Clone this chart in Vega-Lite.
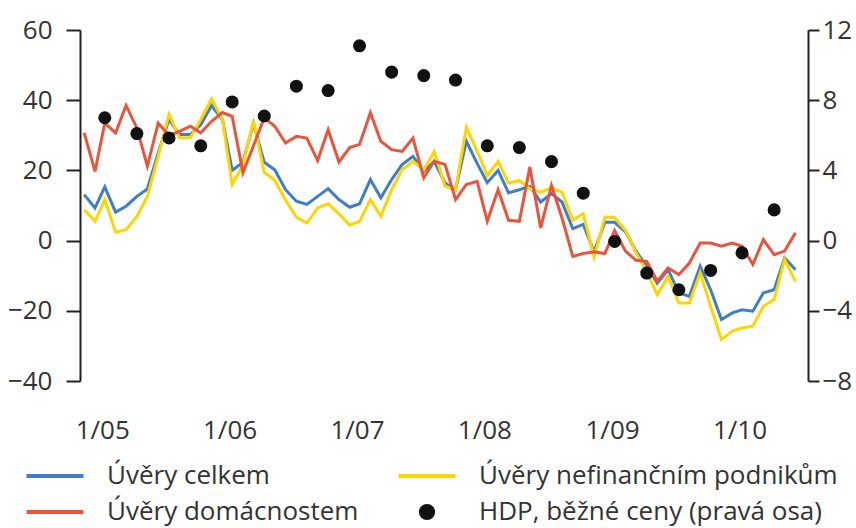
{
  "$schema": "https://vega.github.io/schema/vega-lite/v6.json",
  "width": 728,
  "height": 351,
  "autosize": {"type": "none"},
  "padding": {"left": 80, "top": 30, "right": 48, "bottom": 147},
  "background": "white",
  "config": {
    "view": {"stroke": null},
    "font": "Open Sans",
    "axis": {"labelFont": "Open Sans", "labelFontSize": 26, "labelColor": "#333333", "domainColor": "#222222", "tickColor": "#222222", "domainWidth": 2, "tickWidth": 2, "grid": false, "title": null}
  },
  "datasets": {
    "loans": [
      {"date": "2005-01-01", "Úvěry celkem": 13.1, "Úvěry nefinančním podnikům": 8.8, "Úvěry domácnostem": 30.7},
      {"date": "2005-02-01", "Úvěry celkem": 9.3, "Úvěry nefinančním podnikům": 5.5, "Úvěry domácnostem": 19.7},
      {"date": "2005-03-01", "Úvěry celkem": 15.3, "Úvěry nefinančním podnikům": 11.7, "Úvěry domácnostem": 33.5},
      {"date": "2005-04-01", "Úvěry celkem": 8.1, "Úvěry nefinančním podnikům": 2.4, "Úvěry domácnostem": 30.7},
      {"date": "2005-05-01", "Úvěry celkem": 9.8, "Úvěry nefinančním podnikům": 3.1, "Úvěry domácnostem": 38.5},
      {"date": "2005-06-01", "Úvěry celkem": 12.6, "Úvěry nefinančním podnikům": 6.9, "Úvěry domácnostem": 32.1},
      {"date": "2005-07-01", "Úvěry celkem": 14.7, "Úvěry nefinančním podnikům": 12.6, "Úvěry domácnostem": 21.2},
      {"date": "2005-08-01", "Úvěry celkem": 25.0, "Úvěry nefinančním podnikům": 24.0, "Úvěry domácnostem": 33.5},
      {"date": "2005-09-01", "Úvěry celkem": 34.5, "Úvěry nefinančním podnikům": 36.0, "Úvěry domácnostem": 30.0},
      {"date": "2005-10-01", "Úvěry celkem": 30.2, "Úvěry nefinančním podnikům": 29.3, "Úvěry domácnostem": 31.1},
      {"date": "2005-11-01", "Úvěry celkem": 30.2, "Úvěry nefinančním podnikům": 29.3, "Úvěry domácnostem": 32.6},
      {"date": "2005-12-01", "Úvěry celkem": 33.0, "Úvěry nefinančním podnikům": 34.5, "Úvěry domácnostem": 30.7},
      {"date": "2006-01-01", "Úvěry celkem": 38.5, "Úvěry nefinančním podnikům": 40.4, "Úvěry domácnostem": 34.0},
      {"date": "2006-02-01", "Úvěry celkem": 34.5, "Úvěry nefinančním podnikům": 34.5, "Úvěry domácnostem": 36.5},
      {"date": "2006-03-01", "Úvěry celkem": 20.0, "Úvěry nefinančním podnikům": 16.0, "Úvěry domácnostem": 35.4},
      {"date": "2006-04-01", "Úvěry celkem": 22.3, "Úvěry nefinančním podnikům": 21.5, "Úvěry domácnostem": 19.3},
      {"date": "2006-05-01", "Úvěry celkem": 33.3, "Úvěry nefinančním podnikům": 34.2, "Úvěry domácnostem": 27.0},
      {"date": "2006-06-01", "Úvěry celkem": 22.3, "Úvěry nefinančním podnikům": 19.5, "Úvěry domácnostem": 35.0},
      {"date": "2006-07-01", "Úvěry celkem": 20.2, "Úvěry nefinančním podnikům": 17.2, "Úvěry domácnostem": 32.6},
      {"date": "2006-08-01", "Úvěry celkem": 14.5, "Úvěry nefinančním podnikům": 11.5, "Úvěry domácnostem": 27.8},
      {"date": "2006-09-01", "Úvěry celkem": 11.2, "Úvěry nefinančním podnikům": 6.7, "Úvěry domácnostem": 29.7},
      {"date": "2006-10-01", "Úvěry celkem": 10.3, "Úvěry nefinančním podnikům": 5.0, "Úvěry domácnostem": 29.2},
      {"date": "2006-11-01", "Úvěry celkem": 12.6, "Úvěry nefinančním podnikům": 9.3, "Úvěry domácnostem": 22.8},
      {"date": "2006-12-01", "Úvěry celkem": 14.8, "Úvěry nefinančním podnikům": 10.5, "Úvěry domácnostem": 31.6},
      {"date": "2007-01-01", "Úvěry celkem": 11.7, "Úvěry nefinančním podnikům": 7.6, "Úvěry domácnostem": 22.4},
      {"date": "2007-02-01", "Úvěry celkem": 9.5, "Úvěry nefinančním podnikům": 4.4, "Úvěry domácnostem": 26.5},
      {"date": "2007-03-01", "Úvěry celkem": 10.5, "Úvěry nefinančním podnikům": 5.5, "Úvěry domácnostem": 27.4},
      {"date": "2007-04-01", "Úvěry celkem": 17.4, "Úvěry nefinančním podnikům": 11.7, "Úvěry domácnostem": 36.4},
      {"date": "2007-05-01", "Úvěry celkem": 12.2, "Úvěry nefinančním podnikům": 6.9, "Úvěry domácnostem": 28.3},
      {"date": "2007-06-01", "Úvěry celkem": 17.4, "Úvěry nefinančním podnikům": 14.5, "Úvěry domácnostem": 25.9},
      {"date": "2007-07-01", "Úvěry celkem": 21.7, "Úvěry nefinančním podnikům": 20.2, "Úvěry domácnostem": 25.4},
      {"date": "2007-08-01", "Úvěry celkem": 24.0, "Úvěry nefinančním podnikům": 22.6, "Úvěry domácnostem": 29.2},
      {"date": "2007-09-01", "Úvěry celkem": 19.7, "Úvěry nefinančním podnikům": 20.2, "Úvěry domácnostem": 17.9},
      {"date": "2007-10-01", "Úvěry celkem": 22.6, "Úvěry nefinančním podnikům": 25.4, "Úvěry domácnostem": 22.6},
      {"date": "2007-11-01", "Úvěry celkem": 16.4, "Úvěry nefinančním podnikům": 15.5, "Úvěry domácnostem": 21.7},
      {"date": "2007-12-01", "Úvěry celkem": 14.5, "Úvěry nefinančním podnikům": 14.5, "Úvěry domácnostem": 11.7},
      {"date": "2008-01-01", "Úvěry celkem": 28.3, "Úvěry nefinančním podnikům": 32.3, "Úvěry domácnostem": 16.0},
      {"date": "2008-02-01", "Úvěry celkem": 22.0, "Úvěry nefinančním podnikům": 25.5, "Úvěry domácnostem": 16.9},
      {"date": "2008-03-01", "Úvěry celkem": 16.5, "Úvěry nefinančním podnikům": 18.5, "Úvěry domácnostem": 5.5},
      {"date": "2008-04-01", "Úvěry celkem": 20.0, "Úvěry nefinančním podnikům": 22.6, "Úvěry domácnostem": 14.5},
      {"date": "2008-05-01", "Úvěry celkem": 13.6, "Úvěry nefinančním podnikům": 16.4, "Úvěry domácnostem": 5.8},
      {"date": "2008-06-01", "Úvěry celkem": 14.5, "Úvěry nefinančním podnikům": 17.1, "Úvěry domácnostem": 5.5},
      {"date": "2008-07-01", "Úvěry celkem": 15.5, "Úvěry nefinančním podnikům": 14.8, "Úvěry domácnostem": 21.0},
      {"date": "2008-08-01", "Úvěry celkem": 11.0, "Úvěry nefinančním podnikům": 13.8, "Úvěry domácnostem": 3.6},
      {"date": "2008-09-01", "Úvěry celkem": 13.4, "Úvěry nefinančním podnikům": 15.0, "Úvěry domácnostem": 15.7},
      {"date": "2008-10-01", "Úvěry celkem": 11.0, "Úvěry nefinančním podnikům": 13.8, "Úvěry domácnostem": 6.5},
      {"date": "2008-11-01", "Úvěry celkem": 3.4, "Úvěry nefinančním podnikům": 5.8, "Úvěry domácnostem": -4.5},
      {"date": "2008-12-01", "Úvěry celkem": 4.6, "Úvěry nefinančním podnikům": 7.7, "Úvěry domácnostem": -3.7},
      {"date": "2009-01-01", "Úvěry celkem": -3.2, "Úvěry nefinančním podnikům": -4.7, "Úvěry domácnostem": -3.2},
      {"date": "2009-02-01", "Úvěry celkem": 5.2, "Úvěry nefinančním podnikům": 6.7, "Úvěry domácnostem": -3.7},
      {"date": "2009-03-01", "Úvěry celkem": 5.2, "Úvěry nefinančním podnikům": 6.5, "Úvěry domácnostem": 2.9},
      {"date": "2009-04-01", "Úvěry celkem": 2.5, "Úvěry nefinančním podnikům": 2.9, "Úvěry domácnostem": -3.0},
      {"date": "2009-05-01", "Úvěry celkem": -3.0, "Úvěry nefinančním podnikům": -3.5, "Úvěry domácnostem": -5.6},
      {"date": "2009-06-01", "Úvěry celkem": -7.3, "Úvěry nefinančním podnikům": -8.7, "Úvěry domácnostem": -5.9},
      {"date": "2009-07-01", "Úvěry celkem": -12.1, "Úvěry nefinančním podnikům": -15.4, "Úvěry domácnostem": -11.6},
      {"date": "2009-08-01", "Úvěry celkem": -8.3, "Úvěry nefinančním podnikům": -10.2, "Úvěry domácnostem": -7.8},
      {"date": "2009-09-01", "Úvěry celkem": -14.9, "Úvěry nefinančním podnikům": -17.8, "Úvěry domácnostem": -9.7},
      {"date": "2009-10-01", "Úvěry celkem": -15.9, "Úvěry nefinančním podnikům": -17.8, "Úvěry domácnostem": -6.4},
      {"date": "2009-11-01", "Úvěry celkem": -7.3, "Úvěry nefinančním podnikům": -9.2, "Úvěry domácnostem": -0.7},
      {"date": "2009-12-01", "Úvěry celkem": -14.0, "Úvěry nefinančním podnikům": -18.7, "Úvěry domácnostem": -0.7},
      {"date": "2010-01-01", "Úvěry celkem": -22.5, "Úvěry nefinančním podnikům": -28.2, "Úvěry domácnostem": -1.6},
      {"date": "2010-02-01", "Úvěry celkem": -20.6, "Úvěry nefinančním podnikům": -25.8, "Úvěry domácnostem": -0.7},
      {"date": "2010-03-01", "Úvěry celkem": -19.7, "Úvěry nefinančním podnikům": -24.9, "Úvěry domácnostem": -1.6},
      {"date": "2010-04-01", "Úvěry celkem": -20.1, "Úvěry nefinančním podnikům": -24.4, "Úvěry domácnostem": -6.8},
      {"date": "2010-05-01", "Úvěry celkem": -14.9, "Úvěry nefinančním podnikům": -18.7, "Úvěry domácnostem": 0.3},
      {"date": "2010-06-01", "Úvěry celkem": -14.0, "Úvěry nefinančním podnikům": -16.8, "Úvěry domácnostem": -4.0},
      {"date": "2010-07-01", "Úvěry celkem": -4.9, "Úvěry nefinančním podnikům": -5.4, "Úvěry domácnostem": -3.0},
      {"date": "2010-08-01", "Úvěry celkem": -8.3, "Úvěry nefinančním podnikům": -11.6, "Úvěry domácnostem": 2.2}
    ],
    "gdp": [
      {"date": "2005-03-01", "series": "HDP, běžné ceny (pravá osa)", "value": 7.0},
      {"date": "2005-06-01", "series": "HDP, běžné ceny (pravá osa)", "value": 6.1},
      {"date": "2005-09-01", "series": "HDP, běžné ceny (pravá osa)", "value": 5.85},
      {"date": "2005-12-01", "series": "HDP, běžné ceny (pravá osa)", "value": 5.4},
      {"date": "2006-03-01", "series": "HDP, běžné ceny (pravá osa)", "value": 7.9},
      {"date": "2006-06-01", "series": "HDP, běžné ceny (pravá osa)", "value": 7.1},
      {"date": "2006-09-01", "series": "HDP, běžné ceny (pravá osa)", "value": 8.8},
      {"date": "2006-12-01", "series": "HDP, běžné ceny (pravá osa)", "value": 8.55},
      {"date": "2007-03-01", "series": "HDP, běžné ceny (pravá osa)", "value": 11.1},
      {"date": "2007-06-01", "series": "HDP, běžné ceny (pravá osa)", "value": 9.6},
      {"date": "2007-09-01", "series": "HDP, běžné ceny (pravá osa)", "value": 9.4},
      {"date": "2007-12-01", "series": "HDP, běžné ceny (pravá osa)", "value": 9.15},
      {"date": "2008-03-01", "series": "HDP, běžné ceny (pravá osa)", "value": 5.4},
      {"date": "2008-06-01", "series": "HDP, běžné ceny (pravá osa)", "value": 5.3},
      {"date": "2008-09-01", "series": "HDP, běžné ceny (pravá osa)", "value": 4.5},
      {"date": "2008-12-01", "series": "HDP, běžné ceny (pravá osa)", "value": 2.7},
      {"date": "2009-03-01", "series": "HDP, běžné ceny (pravá osa)", "value": -0.05},
      {"date": "2009-06-01", "series": "HDP, běžné ceny (pravá osa)", "value": -1.85},
      {"date": "2009-09-01", "series": "HDP, běžné ceny (pravá osa)", "value": -2.8},
      {"date": "2009-12-01", "series": "HDP, běžné ceny (pravá osa)", "value": -1.7},
      {"date": "2010-03-01", "series": "HDP, běžné ceny (pravá osa)", "value": -0.7},
      {"date": "2010-06-01", "series": "HDP, běžné ceny (pravá osa)", "value": 1.75}
    ]
  },
  "layer": [
    {
      "layer": [
        {
          "data": {"name": "loans"},
          "transform": [{"fold": ["Úvěry celkem", "Úvěry nefinančním podnikům", "Úvěry domácnostem"], "as": ["series", "value"]}],
          "mark": {"type": "line", "strokeWidth": 3, "interpolate": "linear"},
          "encoding": {
            "x": {"field": "date", "type": "temporal",
              "scale": {"type": "utc", "domain": [{"year": 2004, "month": 12, "date": 20, "utc": true}, {"year": 2010, "month": 9, "date": 6, "utc": true}]},
              "axis": {"orient": "bottom", "domain": false, "ticks": false, "labelPadding": 36, "labelOffset": 18, "labelAlign": "center",
                "labelExpr": "utcFormat(datum.value, '%-m/%y')",
                "values": [{"year": 2005, "month": 1, "date": 1, "utc": true}, {"year": 2006, "month": 1, "date": 1, "utc": true}, {"year": 2007, "month": 1, "date": 1, "utc": true}, {"year": 2008, "month": 1, "date": 1, "utc": true}, {"year": 2009, "month": 1, "date": 1, "utc": true}, {"year": 2010, "month": 1, "date": 1, "utc": true}]}},
            "y": {"field": "value", "type": "quantitative",
              "scale": {"domain": [-40, 60], "nice": false, "zero": false},
              "axis": {"orient": "left", "values": [-40, -20, 0, 20, 40, 60], "tickSize": 14, "labelPadding": 14}},
            "color": {"field": "series", "type": "nominal",
              "scale": {"domain": ["Úvěry celkem", "Úvěry nefinančním podnikům", "Úvěry domácnostem", "HDP, běžné ceny (pravá osa)"], "range": ["#3E7DCA", "#FFD500", "#E9543D", "#111111"]},
              "legend": {
                "orient": "none", "legendX": -38, "legendY": 433, "columns": 2, "direction": "horizontal", "title": null,
                "padding": 0, "columnPadding": 31, "rowPadding": 8,
                "labelFont": "Open Sans", "labelFontSize": 26, "labelColor": "#333333", "labelOffset": 39, "labelLimit": 500,
                "symbolType": "M-3,0H3", "symbolStrokeWidth": 4, "symbolSize": 361,
                "encode": {"symbols": {"update": {
                  "shape": {"signal": "datum.value === 'HDP, běžné ceny (pravá osa)' ? 'circle' : 'M-3,0H3'"},
                  "size": {"signal": "datum.value === 'HDP, běžné ceny (pravá osa)' ? 150 : 361"},
                  "fill": {"signal": "datum.value === 'HDP, běžné ceny (pravá osa)' ? '#111111' : 'transparent'"},
                  "stroke": {"signal": "datum.value === 'HDP, běžné ceny (pravá osa)' ? 'transparent' : scale('color', datum.value)"},
                  "strokeWidth": {"value": 4}
                }}}
              }}
          }
        },
        {
          "mark": {"type": "rule", "color": "#222222", "strokeWidth": 2},
          "encoding": {"y": {"datum": 0}}
        }
      ]
    },
    {
      "data": {"name": "gdp"},
      "mark": {"type": "point", "filled": true, "size": 170, "opacity": 1},
      "encoding": {
        "x": {"field": "date", "type": "temporal",
          "axis": {"orient": "bottom", "domain": false, "ticks": false, "labelPadding": 36, "labelOffset": 18, "labelAlign": "center",
            "labelExpr": "utcFormat(datum.value, '%-m/%y')",
            "values": [{"year": 2005, "month": 1, "date": 1, "utc": true}, {"year": 2006, "month": 1, "date": 1, "utc": true}, {"year": 2007, "month": 1, "date": 1, "utc": true}, {"year": 2008, "month": 1, "date": 1, "utc": true}, {"year": 2009, "month": 1, "date": 1, "utc": true}, {"year": 2010, "month": 1, "date": 1, "utc": true}]}},
        "y": {"field": "value", "type": "quantitative",
          "scale": {"domain": [-8, 12], "nice": false, "zero": false},
          "axis": {"orient": "right", "values": [-8, -4, 0, 4, 8, 12], "tickSize": 11, "labelPadding": 3}},
        "color": {"field": "series", "type": "nominal"}
      }
    }
  ],
  "resolve": {"scale": {"y": "independent"}}
}
